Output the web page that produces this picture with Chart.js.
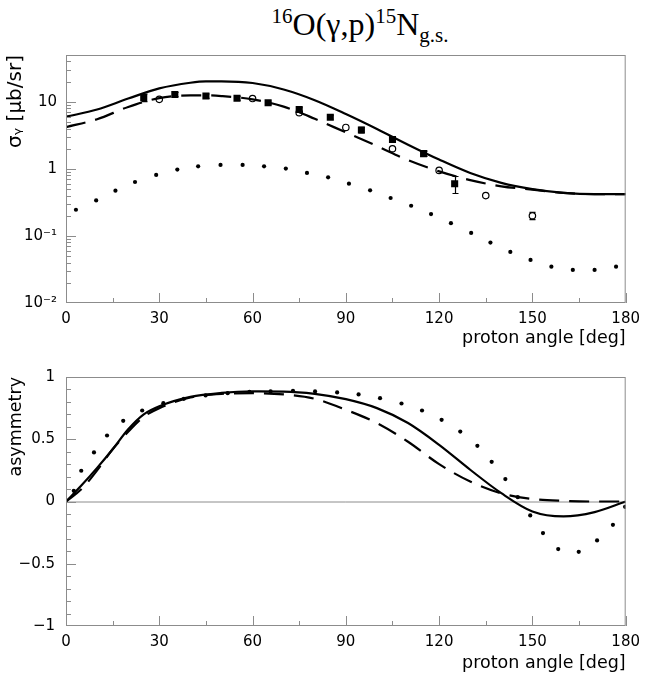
<!DOCTYPE html>
<html>
<head>
<meta charset="utf-8">
<script src="https://cdn.jsdelivr.net/npm/chart.js@4.4.1/dist/chart.umd.min.js"></script>
<style>
  html, body { margin: 0; padding: 0; background: #fff; }
  #wrap { position: relative; width: 647px; height: 679px; }
  #title { position: absolute; left: 0; top: 4px; width: 720px; text-align: center;
           font-family: "Liberation Serif", "DejaVu Serif", serif; font-size: 32px; color: #000; }
  #title sup, #title sub { font-size: 21px; }
  #title sup { vertical-align: 12px; }
  #title sub { vertical-align: -7px; }
  canvas { position: absolute; left: 0; }
  #xsec { top: 0; }
  #asym { top: 350px; }
</style>
</head>
<body>
<div id="wrap">
  <div id="title"><sup>16</sup>O(γ,p)<sup>15</sup>N<sub>g.s.</sub></div>
  <canvas id="xsec" width="647" height="350"></canvas>
  <canvas id="asym" width="647" height="329"></canvas>
</div>
<script>
// ---- cross section (top panel) ----
const curveAngles = [0, 10, 20, 30, 40, 45, 50, 60, 70, 80, 90, 100, 110, 120, 130, 140, 150, 160, 170, 180];
const xsecFull   = [6.0, 7.7, 11.2, 15.9, 19.3, 20.2, 20.2, 19.1, 15.3, 10.6, 6.6, 3.95, 2.3, 1.38, 0.87, 0.62, 0.5, 0.44, 0.42, 0.42];
const xsecDashed = [4.2, 5.5, 8.4, 11.4, 12.5, 12.5, 12.2, 10.9, 8.5, 5.6, 3.5, 2.2, 1.35, 0.92, 0.68, 0.55, 0.49, 0.44, 0.42, 0.42];

const xsecDotAngles = [3.2, 9.7, 15.9, 22.2, 29, 35.8, 42.5, 49.7, 56.8, 63.7, 70.7, 77.5, 84.3, 91, 97.8,
                       104.4, 111, 117.4, 123.8, 130.3, 136.5, 142.9, 149.4, 156.1, 163, 170, 176.9];
const xsecDots = [0.246, 0.339, 0.473, 0.638, 0.813, 0.977, 1.094, 1.148, 1.148, 1.094, 1.01, 0.871, 0.748, 0.603, 0.479,
                  0.368, 0.282, 0.212, 0.155, 0.111, 0.0796, 0.0578, 0.0439, 0.0348, 0.0311, 0.0311, 0.0348];

const squareAngles = [25, 35, 45, 55, 65, 75, 85, 95, 105, 115, 125];
const squareValues = [11.6, 12.9, 12.2, 11.3, 9.7, 7.7, 5.9, 3.8, 2.75, 1.69, 0.6];
const squareErrors = [1.5, 0.9, 0.9, 0.8, 0.6, 0.5, 0.4, 0.35, 0.25, 0.15, 0.17];

const circleAngles = [30, 60, 75, 90, 105, 120, 135, 150];
const circleValues = [10.9, 11.2, 6.9, 4.15, 2.0, 0.95, 0.40, 0.20];
const circleErrors = [0, 0, 0, 0, 0, 0, 0, 0.025];

// ---- asymmetry (bottom panel) ----
const asymAngles = [0, 5, 10, 15, 20, 25, 30, 40, 50, 60, 70, 80, 90, 100, 110, 120, 130, 140, 150, 160, 170, 180];
const asymFull   = [0, 0.13, 0.27, 0.42, 0.58, 0.70, 0.765, 0.84, 0.872, 0.884, 0.883, 0.865, 0.822, 0.75, 0.63, 0.455, 0.255, 0.067, -0.08, -0.12, -0.085, 0];
const asymDashed = [0, 0.10, 0.25, 0.42, 0.56, 0.68, 0.75, 0.835, 0.865, 0.87, 0.86, 0.825, 0.737, 0.63, 0.48, 0.30, 0.16, 0.065, 0.02, 0.005, 0, 0];

const asymDotAngles = [2.5, 4.9, 9, 13.2, 18.4, 24.5, 31.3, 37.9, 44.9, 52, 59, 65.8, 73, 80.1, 87.2, 94.1, 101, 107.9,
                       114.5, 120.8, 126.8, 132.3, 136.9, 141.3, 145.3, 149.3, 153.4, 158.3, 164.9, 170.8, 175.9, 179.8];
const asymDots = [0.086, 0.247, 0.394, 0.53, 0.648, 0.731, 0.79, 0.825, 0.852, 0.87, 0.88, 0.884, 0.889, 0.884, 0.876, 0.86, 0.83, 0.787,
                  0.731, 0.656, 0.562, 0.447, 0.319, 0.18, 0.035, -0.112, -0.254, -0.382, -0.404, -0.313, -0.187, -0.043];

const xTitle = 'proton angle [deg]';
const xsecTitle = 'σᵧ [μb/sr]';
const asymTitle = 'asymmetry';

const pts = (xs, ys) => xs.map((x, i) => ({x: x, y: ys[i]}));

const tickFont = {family: 'DejaVu Sans', size: 15};
const titleFont = {family: 'DejaVu Sans', size: 17.5};
const frameColor = '#8c8c8c';

// frame, inward tick marks, zero line and error bars
const framePlugin = {
  id: 'frame',
  beforeDatasetsDraw(chart) {
    const {ctx, chartArea: a, scales} = chart;
    if (chart.options.plugins.frame.zeroLine) {
      const y0 = scales.y.getPixelForValue(0);
      ctx.save();
      ctx.strokeStyle = frameColor;
      ctx.lineWidth = 1;
      ctx.beginPath();
      ctx.moveTo(a.left, y0 + 0.5);
      ctx.lineTo(a.right, y0 + 0.5);
      ctx.stroke();
      ctx.restore();
    }
    // error bars under the markers
    ctx.save();
    chart.data.datasets.forEach(ds => {
      if (!ds.errors) return;
      ctx.strokeStyle = '#000';
      ctx.lineWidth = 1.2;
      ds.data.forEach((p, i) => {
        const e = ds.errors[i];
        if (!e) return;
        const px = Math.round(scales.x.getPixelForValue(p.x)) + 0.5;
        const y1 = scales.y.getPixelForValue(p.y - e);
        const y2 = scales.y.getPixelForValue(p.y + e);
        ctx.beginPath();
        ctx.moveTo(px, y1); ctx.lineTo(px, y2);
        ctx.moveTo(px - 3, y1); ctx.lineTo(px + 3, y1);
        ctx.moveTo(px - 3, y2); ctx.lineTo(px + 3, y2);
        ctx.stroke();
      });
    });
    ctx.restore();
  },
  afterDatasetsDraw(chart) {
    const {ctx, chartArea: a, scales} = chart;
    ctx.save();
    // frame
    ctx.strokeStyle = frameColor;
    ctx.lineWidth = 1;
    ctx.strokeRect(a.left + 0.5, a.top + 0.5, a.right - a.left - 1, a.bottom - a.top - 1);
    // ticks pointing inward
    ctx.beginPath();
    scales.x.ticks.forEach(t => {
      const px = Math.round(scales.x.getPixelForValue(t.value)) + 0.5;
      const len = t.label !== '' ? 10 : 5;
      ctx.moveTo(px, a.bottom);
      ctx.lineTo(px, a.bottom - len);
    });
    scales.y.ticks.forEach(t => {
      const py = Math.round(scales.y.getPixelForValue(t.value)) + 0.5;
      if (py < a.top || py > a.bottom) return;
      const len = t.label !== '' ? 10 : 5;
      ctx.moveTo(a.left, py);
      ctx.lineTo(a.left + len, py);
    });
    ctx.stroke();
    ctx.restore();
  }
};

function xScale(axisHeight, titleBottom) {
  return {
    type: 'linear',
    min: 0,
    max: 180,
    afterFit: s => { s.height = axisHeight; },
    grid: {display: false, drawTicks: false},
    border: {display: false},
    ticks: {
      stepSize: 15,
      autoSkip: false,
      maxRotation: 0,
      padding: 7,
      color: '#000',
      font: tickFont,
      callback: v => (v % 30 === 0 ? String(v) : '')
    },
    title: {display: true, text: xTitle, align: 'end', color: '#000', font: titleFont,
            padding: {top: 0, bottom: titleBottom}}
  };
}

const lineStyle = {borderColor: '#000', borderWidth: 2.2, pointRadius: 0, fill: false, cubicInterpolationMode: 'monotone'};
const dotStyle = {showLine: false, pointRadius: 2.1, pointBackgroundColor: '#000', pointBorderWidth: 0, borderColor: '#000'};

// top panel
const logLabels = {'-2': '10⁻²', '-1': '10⁻¹', '0': '1', '1': '10'};
new Chart(document.getElementById('xsec'), {
  type: 'scatter',
  data: {
    datasets: [
      Object.assign({type: 'line', data: pts(curveAngles, xsecFull)}, lineStyle),
      Object.assign({type: 'line', data: pts(curveAngles, xsecDashed), borderDash: [20, 10]}, lineStyle),
      Object.assign({data: pts(xsecDotAngles, xsecDots)}, dotStyle),
      {data: pts(squareAngles, squareValues), errors: squareErrors, pointStyle: 'rect', pointRadius: 5,
       pointBackgroundColor: '#000', borderColor: '#000', pointBorderWidth: 0},
      {data: pts(circleAngles, circleValues), errors: circleErrors, pointStyle: 'circle', pointRadius: 3.2,
       pointBackgroundColor: '#fff', borderColor: '#000', pointBorderWidth: 1.2}
    ]
  },
  options: {
    responsive: false,
    animation: false,
    layout: {padding: {top: 55, right: 14, left: 0, bottom: 0}},
    plugins: {legend: {display: false}, tooltip: {enabled: false}, frame: {zeroLine: false}},
    scales: {
      x: xScale(47, 1.5),
      y: {
        type: 'logarithmic',
        min: 0.01,
        max: 50,
        afterFit: s => { s.width = 66; },
        afterBuildTicks: s => {
          const t = [];
          [0.01, 0.1, 1, 10].forEach(d => {
            for (let k = 1; k <= 9; k++) {
              if (d * k <= 50) t.push({value: d * k});
            }
          });
          s.ticks = t;
        },
        grid: {display: false, drawTicks: false},
        border: {display: false},
        ticks: {
          autoSkip: false,
          padding: 9,
          color: '#000',
          font: tickFont,
          callback: v => {
            const l = Math.log10(v);
            const r = Math.round(l);
            return Math.abs(l - r) < 1e-6 ? logLabels[String(r)] : '';
          }
        },
        title: {display: true, text: xsecTitle, align: 'end', color: '#000',
                font: {family: 'DejaVu Sans', size: 20},
                padding: {top: 4, bottom: 0}}
      }
    }
  },
  plugins: [framePlugin]
});

// bottom panel
const asymLabel = v => {
  const r = Math.round(v * 10) / 10;
  if (Math.abs(r * 2 - Math.round(r * 2)) > 1e-6) return '';
  return r < 0 ? '−' + String(-r) : String(r);
};
new Chart(document.getElementById('asym'), {
  type: 'scatter',
  data: {
    datasets: [
      Object.assign({type: 'line', data: pts(asymAngles, asymFull)}, lineStyle),
      Object.assign({type: 'line', data: pts(asymAngles, asymDashed), borderDash: [20, 10]}, lineStyle),
      Object.assign({data: pts(asymDotAngles, asymDots)}, dotStyle)
    ]
  },
  options: {
    responsive: false,
    animation: false,
    layout: {padding: {top: 27, right: 14, left: 0, bottom: 0}},
    plugins: {legend: {display: false}, tooltip: {enabled: false}, frame: {zeroLine: true}},
    scales: {
      x: xScale(53, 5.5),
      y: {
        type: 'linear',
        min: -1,
        max: 1,
        afterFit: s => { s.width = 66; },
        grid: {display: false, drawTicks: false},
        border: {display: false},
        ticks: {
          stepSize: 0.1,
          autoSkip: false,
          padding: 11,
          color: '#000',
          font: tickFont,
          callback: asymLabel
        },
        title: {display: true, text: asymTitle, align: 'end', color: '#000', font: titleFont,
                padding: {top: 5.5, bottom: 0}}
      }
    }
  },
  plugins: [framePlugin]
});
</script>
</body>
</html>
